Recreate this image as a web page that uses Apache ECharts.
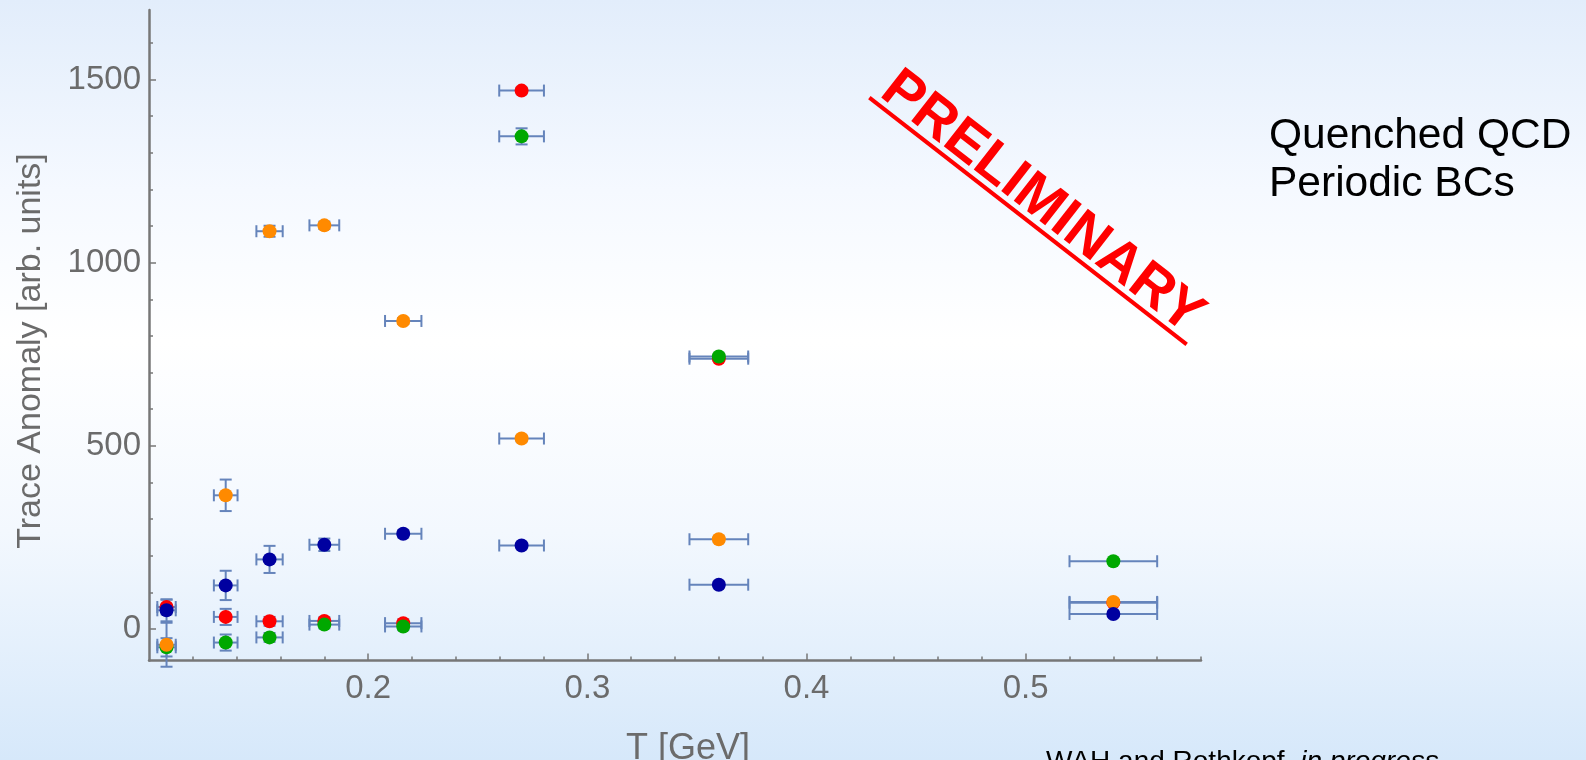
<!DOCTYPE html>
<html>
<head>
<meta charset="utf-8">
<script src="https://cdn.jsdelivr.net/npm/echarts@6/dist/echarts.min.js"></script>
<style>
  html, body { margin: 0; padding: 0; }
  #chart {
    width: 1586px;
    height: 760px;
    background: linear-gradient(to bottom, #e2edfb 0%, #f5f9ff 25%, #ffffff 45%, #f3f8fe 70%, #d6e8fa 100%);
  }
</style>
</head>
<body>
<div id="chart"></div>
<script>
// temperatures (GeV) and their horizontal errors
var temps = [0.108, 0.135, 0.155, 0.18, 0.216, 0.27, 0.36, 0.54];
var tempErr = [0.0042, 0.0054, 0.006, 0.0068, 0.0083, 0.0102, 0.0134, 0.02];

// trace anomaly values per series (arb. units)
var redVals = [60, 33, 21, 22, 16, 1470, 738, 72];
var redErr = [20, 22, 12, 10, 10, 8, 6, 6];
var greenVals = [-50, -37, -23, 12, 7, 1345, 744, 185];
var greenErr = [25, 22, 12, 10, 10, 22, 8, 6];
var orangeVals = [-43, 365, 1086, 1102, 841, 520, 245, 74];
var orangeErr = [60, 43, 15, 10, 8, 8, 8, 6];
var blueVals = [51, 119, 190, 230, 260, 228, 121, 41];
var blueErr = [30, 40, 37, 17, 10, 8, 8, 6];

// ticks
var xMajorTicks = [0.2, 0.3, 0.4, 0.5];
var xMinorTicks = [0.12, 0.14, 0.16, 0.18, 0.2, 0.22, 0.24, 0.26, 0.28, 0.3, 0.32, 0.34, 0.36, 0.38,
                   0.4, 0.42, 0.44, 0.46, 0.48, 0.5, 0.52, 0.54, 0.56, 0.58];
var yMajorTicks = [0, 500, 1000, 1500];
var yMinorTicks = [0, 100, 200, 300, 400, 500, 600, 700, 800, 900, 1000, 1100, 1200, 1300, 1400, 1500, 1600];

var FONT = "'Liberation Sans', Arial, sans-serif";
var axisGray = "#777777";
var labelGray = "#6b6b6b";
var barColor = "#6584bb";

function rows(vals, errs) {
  return temps.map(function (t, i) {
    return [t, vals[i], tempErr[i], errs[i]];
  });
}

function renderErr(params, api) {
  var x = api.value(0), y = api.value(1), dx = api.value(2), dy = api.value(3);
  var l = api.coord([x - dx, y]);
  var r = api.coord([x + dx, y]);
  var t = api.coord([x, y + dy]);
  var b = api.coord([x, y - dy]);
  var c = 6;
  var st = { stroke: barColor, lineWidth: 2 };
  return {
    type: "group",
    children: [
      { type: "line", shape: { x1: l[0], y1: l[1], x2: r[0], y2: r[1] }, style: st },
      { type: "line", shape: { x1: l[0], y1: l[1] - c, x2: l[0], y2: l[1] + c }, style: st },
      { type: "line", shape: { x1: r[0], y1: r[1] - c, x2: r[0], y2: r[1] + c }, style: st },
      { type: "line", shape: { x1: t[0], y1: t[1], x2: b[0], y2: b[1] }, style: st },
      { type: "line", shape: { x1: t[0] - c, y1: t[1], x2: t[0] + c, y2: t[1] }, style: st },
      { type: "line", shape: { x1: b[0] - c, y1: b[1], x2: b[0] + c, y2: b[1] }, style: st }
    ]
  };
}

var groups = [
  { name: "red", color: "#ff0000", vals: redVals, errs: redErr },
  { name: "green", color: "#00a800", vals: greenVals, errs: greenErr },
  { name: "orange", color: "#ff8a00", vals: orangeVals, errs: orangeErr },
  { name: "blue", color: "#0000a0", vals: blueVals, errs: blueErr }
];

var series = [];
groups.forEach(function (g) {
  series.push({
    name: g.name + "-err",
    type: "custom",
    renderItem: renderErr,
    encode: { x: 0, y: 1 },
    data: rows(g.vals, g.errs),
    z: 2,
    silent: true
  });
});
groups.forEach(function (g, k) {
  series.push({
    name: g.name,
    type: "scatter",
    symbolSize: 14,
    itemStyle: { color: g.color, opacity: 1 },
    data: rows(g.vals, g.errs),
    z: 3 + k
  });
});

var mychart = echarts.init(document.getElementById("chart"));
mychart.setOption({
  backgroundColor: "transparent",
  animation: false,
  grid: { left: 149, right: 385, top: 10, bottom: 99.5 },
  xAxis: [
    {
      type: "value",
      min: 0.1,
      max: 0.58,
      position: "bottom",
      axisLine: { show: true, onZero: false, lineStyle: { color: axisGray, width: 2.5 } },
      axisTick: { show: true, inside: true, length: 4, customValues: xMinorTicks, lineStyle: { color: axisGray, width: 1.5 } },
      axisLabel: { show: false },
      splitLine: { show: false }
    },
    {
      type: "value",
      min: 0.1,
      max: 0.58,
      position: "bottom",
      axisLine: { show: false, onZero: false },
      axisTick: { show: true, inside: true, length: 7, customValues: xMajorTicks, lineStyle: { color: axisGray, width: 1.5 } },
      axisLabel: {
        show: true,
        customValues: xMajorTicks,
        margin: 12,
        color: labelGray,
        fontFamily: FONT,
        fontSize: 33,
        formatter: function (v) { return v.toFixed(1); }
      },
      splitLine: { show: false }
    }
  ],
  yAxis: [
    {
      type: "value",
      min: -86,
      max: 1690,
      position: "left",
      axisLine: { show: true, onZero: false, lineStyle: { color: axisGray, width: 2.5 } },
      axisTick: { show: true, inside: true, length: 4, customValues: yMinorTicks, lineStyle: { color: axisGray, width: 1.5 } },
      axisLabel: { show: false },
      splitLine: { show: false }
    },
    {
      type: "value",
      min: -86,
      max: 1690,
      position: "left",
      axisLine: { show: false, onZero: false },
      axisTick: { show: true, inside: true, length: 7, customValues: yMajorTicks, lineStyle: { color: axisGray, width: 1.5 } },
      axisLabel: {
        show: true,
        customValues: yMajorTicks,
        margin: 8,
        color: labelGray,
        fontFamily: FONT,
        fontSize: 33,
        formatter: function (v) { return String(v); }
      },
      splitLine: { show: false }
    }
  ],
  graphic: [
    {
      type: "text",
      x: 31,
      y: 351,
      rotation: Math.PI / 2,
      style: {
        text: "Trace Anomaly [arb. units]",
        fill: labelGray,
        font: "34px " + FONT,
        align: "center",
        verticalAlign: "middle"
      }
    },
    {
      type: "text",
      x: 688,
      y: 749,
      style: {
        text: "T [GeV]",
        fill: labelGray,
        font: "36px " + FONT,
        align: "center",
        verticalAlign: "middle"
      }
    },
    {
      type: "text",
      x: 1269,
      y: 160,
      style: {
        text: "Quenched QCD\nPeriodic BCs",
        fill: "#000000",
        font: "42.5px " + FONT,
        lineHeight: 48,
        align: "left",
        verticalAlign: "middle"
      }
    },
    {
      type: "group",
      x: 1028,
      y: 221,
      rotation: -0.661,
      children: [
        { type: "line", shape: { x1: -201, y1: 0, x2: 201, y2: 0 }, style: { stroke: "#ff0000", lineWidth: 4 } },
        {
          type: "text",
          x: 0,
          y: -23,
          style: {
            text: "PRELIMINARY",
            fill: "#ff0000",
            font: "bold 57px " + FONT,
            align: "center",
            verticalAlign: "middle"
          }
        }
      ]
    },
    {
      type: "text",
      x: 1046,
      y: 748,
      style: {
        text: "{a|WAH and Rothkopf, }{b|in progress}",
        verticalAlign: "top",
        align: "left",
        rich: {
          a: { fontFamily: FONT, fontSize: 28, fill: "#000000", lineHeight: 28 },
          b: { fontFamily: FONT, fontSize: 28, fontStyle: "italic", fill: "#000000", lineHeight: 28 }
        }
      }
    }
  ],
  series: series
});
</script>
</body>
</html>
